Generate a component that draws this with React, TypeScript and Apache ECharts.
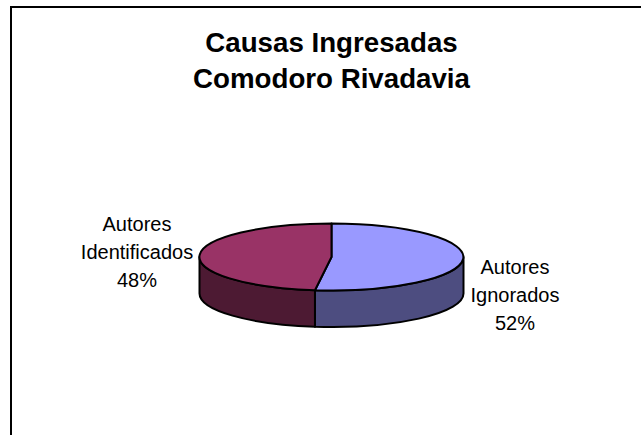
import React, { useEffect, useRef } from "react";
import * as echarts from "echarts";

const TITLE = "Causas Ingresadas\nComodoro Rivadavia";
const categories = ["Autores\nIgnorados", "Autores\nIdentificados"];
const values = [52, 48];
const topColors = ["#9999FF", "#993366"];
const sideColors = ["#4D4D80", "#4D1A33"];
const labelCenters = [[515, 295], [137, 252]];

const CX = 331.5, CY = 257, RX = 132, RY = 33.5, DEPTH = 36.5;
const FONT = '"Liberation Sans", Arial, sans-serif';
const total = values.reduce((a, b) => a + b, 0);

const pt = (deg: number, dy = 0) => {
  const r = (deg * Math.PI) / 180;
  return [CX + RX * Math.sin(r), CY + dy - RY * Math.cos(r)];
};
const f = (p: number[]) => `${p[0].toFixed(2)} ${p[1].toFixed(2)}`;

function renderSlice(params: any, api: any) {
  const i = params.dataIndex;
  const before = values.slice(0, i).reduce((a, b) => a + b, 0);
  const a0 = (before / total) * 360;
  const a1 = ((before + api.value(0)) / total) * 360;
  const large = a1 - a0 > 180 ? 1 : 0;
  const top = `M ${CX} ${CY} L ${f(pt(a0))} A ${RX} ${RY} 0 ${large} 1 ${f(pt(a1))} Z`;
  const s0 = Math.max(a0, 90), s1 = Math.min(a1, 270);
  const side =
    `M ${f(pt(s0))} A ${RX} ${RY} 0 0 1 ${f(pt(s1))} L ${f(pt(s1, DEPTH))} ` +
    `A ${RX} ${RY} 0 0 0 ${f(pt(s0, DEPTH))} Z`;
  const stroke = { stroke: "#000000", lineWidth: 2, lineJoin: "round" };
  const [lx, ly] = labelCenters[i];
  const pct = Math.round((api.value(0) / total) * 100);
  return {
    type: "group",
    children: [
      { type: "path", shape: { pathData: side }, style: { fill: sideColors[i], ...stroke } },
      { type: "path", shape: { pathData: top }, style: { fill: topColors[i], ...stroke } },
      {
        type: "text",
        style: {
          text: `${categories[i]}\n${pct}%`,
          x: lx,
          y: ly,
          align: "center",
          verticalAlign: "middle",
          font: `20px ${FONT}`,
          lineHeight: 28,
          fill: "#000000",
        },
      },
    ],
  };
}

export default function App() {
  const ref = useRef<HTMLDivElement>(null);
  useEffect(() => {
    document.body.style.margin = "0";
    document.body.style.background = "#ffffff";
    const chart = echarts.init(ref.current!, null, { renderer: "svg" });
    chart.setOption({
      animation: false,
      backgroundColor: "#ffffff",
      title: {
        text: TITLE,
        left: 331.5,
        top: 24,
        textAlign: "center",
        padding: 0,
        textStyle: { fontFamily: FONT, fontSize: 27.7, fontWeight: "bold", color: "#000000", lineHeight: 36 },
      },
      graphic: [
        {
          type: "polyline",
          shape: { points: [[11, 435], [11, 7], [641, 7]] },
          style: { stroke: "#000000", lineWidth: 2, fill: "none" },
        },
      ],
      series: [
        {
          type: "custom",
          coordinateSystem: "none",
          renderItem: renderSlice,
          data: values.map((v) => [v]),
          silent: true,
        },
      ],
    });
    return () => chart.dispose();
  }, []);
  return <div ref={ref} style={{ width: 641, height: 435 }} />;
}
